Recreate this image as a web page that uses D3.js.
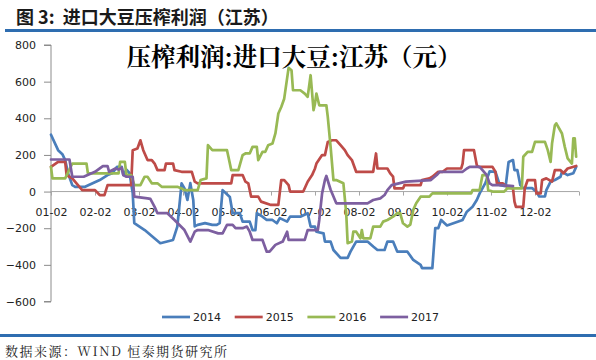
<!DOCTYPE html>
<html><head><meta charset="utf-8">
<script src="https://cdn.jsdelivr.net/npm/d3@7"></script>
<style>
html,body{margin:0;padding:0;background:#fff;}
svg{display:block;}
text{white-space:pre;}
</style></head>
<body><div id="chart"></div>
<script>
const monthLabels = ["01-02","02-02","03-02","04-02","05-02","06-02","07-02","08-02","09-02","10-02","11-02","12-02"];
const yTicks = [-600,-400,-200,0,200,400,600,800];
const seriesNames = ["2014","2015","2016","2017"];
const seriesColors = ["#4A7EBB","#BE4B48","#98B954","#7D5FA0"];

const s2014 = [["01-02",310],["01-07",226],["01-10",204],["01-12",172],["01-14",100],["01-17",35],["01-19",26],["01-26",26],
["02-05",63],["02-10",90],["02-13",100],["02-16",135],["02-19",135],["02-20",90],["02-22",120],["02-24",100],["02-26",-8],["02-27",-172],
["03-06",-210],["03-17",-282],["03-26",-264],["03-29",-191],["04-01",45],["04-03",17],["04-05",-46],["04-07",46],["04-09",-46],["04-10",-190],
["04-12",-182],["04-17",-172],["04-22",-182],["04-25",-182],["04-27",-172],["04-29",8],["05-04",-30],["05-06",-118],["05-11",-118],["05-13",-164],
["05-18",-164],["05-20",-210],["05-22",-210],["05-23",-118],["05-27",-137],["05-30",-155],["06-03",-155],["06-06",-173],["06-08",-145],["06-13",-164],
["06-15",-137],["06-22",-137],["06-27",-118],["06-29",-191],["07-02",-191],["07-03",-219],["07-08",-228],["07-09",-273],["07-13",-273],["07-15",-319],
["07-20",-362],["07-25",-362],["07-27",-328],["07-29",-300],["07-31",-273],["08-08",-273],["08-12",-300],["08-15",-319],["08-20",-319],["08-22",-273],
["08-26",-273],["08-29",-328],["09-05",-328],["09-09",-373],["09-14",-400],["09-15",-418],["09-22",-418],["09-24",-200],["09-26",-200],["09-28",-155],
["10-02",-185],["10-13",-155],["10-16",-110],["10-20",-83],["10-23",-46],["10-25",-10],["10-29",46],["11-01",110],["11-05",108],["11-08",35],
["11-12",30],["11-14",162],["11-17",172],["11-18",117],["11-20",117],["11-22",35],["11-24",19],["11-30",19],["12-03",0],["12-05",-27],["12-09",-27],
["12-10",8],["12-13",54],["12-16",63],["12-20",81],["12-21",108],["12-25",90],["12-29",100],["12-31",135]];

const s2015 = [["01-02",135],["01-07",162],["01-12",162],["01-13",90],["01-15",81],["01-17",72],["01-21",35],["01-24",8],["02-02",8],["02-05",-19],
["02-08",-19],["02-10",35],["02-25",35],["02-26",226],["03-01",235],["03-03",280],["03-05",226],["03-08",172],["03-11",172],["03-13",153],["03-15",117],
["03-20",117],["03-21",153],["03-26",153],["03-27",117],["04-01",108],["04-08",108],["04-10",54],["04-12",45],["05-05",45],["05-06",90],["05-13",90],
["05-15",54],["05-17",45],["05-19",-28],["05-24",-28],["05-26",-55],["06-02",-73],["06-07",-73],["06-09",63],["06-11",63],["06-14",35],["06-15",0],
["06-24",0],["06-27",54],["06-30",90],["07-02",126],["07-03",153],["07-07",199],["07-09",199],["07-11",271],["07-14",280],["07-17",280],["07-20",253],
["07-23",226],["07-25",199],["07-28",172],["07-31",108],["08-12",108],["08-14",208],["08-15",126],["08-22",126],["08-24",99],["08-26",81],["08-27",17],
["09-02",17],["09-03",35],["09-14",35],["09-15",63],["09-20",72],["09-22",81],["09-26",108],["09-29",108],["10-02",126],["10-12",126],["10-13",153],
["10-14",226],["10-21",226],["10-23",144],["10-24",135],["11-03",135],["11-05",108],["11-06",45],["11-10",45],["11-13",26],["11-17",17],["11-18",-55],
["11-19",-83],["11-24",-83],["11-25",17],["11-27",63],["11-30",63],["12-02",63],["12-03",-10],["12-06",-10],["12-07",63],["12-10",72],["12-14",54],
["12-16",117],["12-20",117],["12-22",100],["12-25",126],["12-31",140]];

const s2016 = [["01-02",135],["01-03",72],["01-12",72],["01-17",153],["01-27",153],["01-28",99],["02-17",99],["02-18",162],["02-21",162],["02-22",90],
["02-25",90],["02-27",35],["03-03",35],["03-06",81],["03-08",81],["03-11",45],["03-15",45],["03-18",26],["03-29",26],["04-01",17],["04-03",8],["04-12",8],
["04-14",63],["04-18",72],["04-19",253],["04-22",226],["05-02",226],["05-03",190],["05-05",117],["05-10",117],["05-13",199],["05-15",208],["05-18",208],
["05-20",244],["05-23",244],["05-24",172],["05-27",217],["05-29",217],["05-31",253],["06-03",262],["06-05",317],["06-07",426],["06-09",462],["06-11",507],
["06-14",675],["06-16",662],["06-17",553],["06-22",553],["06-25",535],["06-27",517],["06-29",635],["07-01",444],["07-02",480],["07-03",535],["07-05",471],
["07-10",471],["07-11",408],["07-13",244],["07-15",63],["07-17",63],["07-22",45],["07-24",-118],["07-25",-282],["07-28",-273],["07-29",-219],["07-31",-219],
["08-03",-255],["08-04",-210],["08-05",-255],["08-10",-255],["08-12",-191],["08-17",-191],["08-19",-164],["08-22",-155],["08-26",-137],["08-29",-118],
["08-31",-118],["09-02",-173],["09-05",-191],["09-07",-180],["09-09",-100],["09-11",-64],["09-14",-28],["09-20",-28],["09-22",-10],["10-19",-10],
["10-20",8],["10-25",8],["10-27",90],["10-30",90],["10-31",8],["11-03",0],["11-11",0],["11-13",17],["11-23",17],["11-24",190],["11-27",217],["11-30",217],
["12-02",271],["12-09",271],["12-11",226],["12-13",162],["12-14",262],["12-16",362],["12-17",372],["12-21",317],["12-23",244],["12-25",181],["12-28",153],
["12-29",290],["12-30",290],["12-31",190]];

const s2017 = [["01-02",175],["01-15",175],["01-17",81],["01-25",81],["02-02",108],["02-07",139],["02-10",139],["02-11",108],["02-15",126],["02-17",120],
["02-19",130],["02-20",90],["02-22",81],["02-26",81],["02-27",-28],["03-08",-37],["03-10",-40],["03-13",-83],["03-15",-118],["03-22",-118],["03-27",-155],
["04-03",-210],["04-07",-273],["04-10",-219],["04-12",-210],["04-19",-210],["04-26",-228],["04-29",-228],["05-02",-182],["05-06",-182],["05-08",-200],
["05-13",-200],["05-16",-191],["05-18",-219],["05-20",-264],["05-27",-264],["05-30",-328],["06-01",-328],["06-05",-291],["06-10",-273],["06-13",-219],
["06-14",-264],["06-25",-264],["06-27",-210],["07-04",-210],["07-05",-155],["07-07",-10],["07-09",63],["07-10",85],["07-13",10],["07-17",-64],
["08-08",-64],["08-12",-46],["08-17",-37],["08-20",-19],["08-22",8],["08-25",35],["09-04",54],["09-21",63],["09-25",90],["09-27",108],["10-13",108],
["10-16",126],["10-18",135],["10-25",135],["10-27",117],["10-30",90],["11-01",45],["11-03",35],["11-10",35],["11-17",30]];

const allSeries = [s2014, s2015, s2016, s2017];

const W = 596, H = 360;
const svg = d3.select("#chart").append("svg").attr("width", W).attr("height", H)
  .style("background", "#fff");

const parse = d3.timeParse("%Y-%m-%d");
const monthDates = monthLabels.map(l => parse("2017-" + l));
const axisDates = monthDates.concat([parse("2018-01-02")]);

const plotL = 51, plotR = 579, plotT = 45, plotB = 301.5;
const x = d3.scaleTime().domain(axisDates)
  .range(axisDates.map((d, i) => plotL + (plotR - plotL) * i / 12));
const y = d3.scaleLinear().domain([-600, 800]).range([plotB, plotT]);

// header
svg.append("text").attr("x", 16).attr("y", 24)
  .style("font-family", "'Noto Sans CJK SC', sans-serif").style("font-size", "18px").style("font-weight", "bold")
  .attr("fill", "#1a1a1a").text("图 3:  进口大豆压榨利润（江苏）");
svg.append("rect").attr("x", 5).attr("y", 29).attr("width", 591).attr("height", 3).attr("fill", "#2E6DB0");
svg.append("rect").attr("x", 0).attr("y", 334).attr("width", 596).attr("height", 3).attr("fill", "#2E6DB0");
svg.append("text").attr("x", 5).attr("y", 356).attr("textLength", 222).attr("lengthAdjust", "spacing")
  .style("font-family", "'Noto Serif CJK SC', 'Noto Sans CJK SC', serif").style("font-size", "13px")
  .attr("fill", "#222").text("数据来源：WIND 恒泰期货研究所");

// chart title
svg.append("text").attr("x", 294).attr("y", 66).attr("text-anchor", "middle")
  .style("font-family", "'Noto Serif CJK SC', 'Noto Sans CJK SC', serif").style("font-size", "24.5px").style("font-weight", "bold")
  .attr("fill", "#000").text("压榨利润:进口大豆:江苏（元）");

// y axis
const yAxis = svg.append("g").attr("transform", `translate(${plotL},0)`)
  .call(d3.axisLeft(y).tickValues(yTicks).tickSize(7).tickPadding(8).tickFormat(d3.format("d")));
yAxis.selectAll("path,line").attr("stroke", "#8c8c8c");
yAxis.selectAll("text").style("font-family", "'DejaVu Sans', sans-serif").style("font-size", "11px").attr("fill", "#222");
yAxis.select(".domain").attr("d", `M-7,${plotT}H0V${plotB}H-7`);

// x axis at zero
const xAxis = svg.append("g").attr("transform", `translate(0,${y(0)})`)
  .call(d3.axisBottom(x).tickValues(axisDates).tickSize(4).tickPadding(13)
    .tickFormat((d, i) => i < monthLabels.length ? monthLabels[i] : ""));
xAxis.selectAll("path,line").attr("stroke", "#a6a6a6");
xAxis.select(".domain").attr("d", `M${plotL},0H${plotR}`);
xAxis.selectAll("text").style("font-family", "'DejaVu Sans', sans-serif").style("font-size", "11px").attr("fill", "#222");

// lines
const line = d3.line().x(d => x(parse("2017-" + d[0]))).y(d => y(d[1]));
allSeries.forEach((s, i) => {
  svg.append("path").datum(s).attr("d", line).attr("fill", "none")
    .attr("stroke", seriesColors[i]).attr("stroke-width", 2.7)
    .attr("stroke-linejoin", "round").attr("stroke-linecap", "round");
});

// legend
const lg = svg.append("g");
seriesNames.forEach((n, i) => {
  const lx = 162 + i * 72.7;
  lg.append("line").attr("x1", lx).attr("x2", lx + 28).attr("y1", 317).attr("y2", 317)
    .attr("stroke", seriesColors[i]).attr("stroke-width", 2.7);
  lg.append("text").attr("x", lx + 31).attr("y", 321)
    .style("font-family", "'DejaVu Sans', sans-serif").style("font-size", "11px").attr("fill", "#222").text(n);
});
</script></body></html>
